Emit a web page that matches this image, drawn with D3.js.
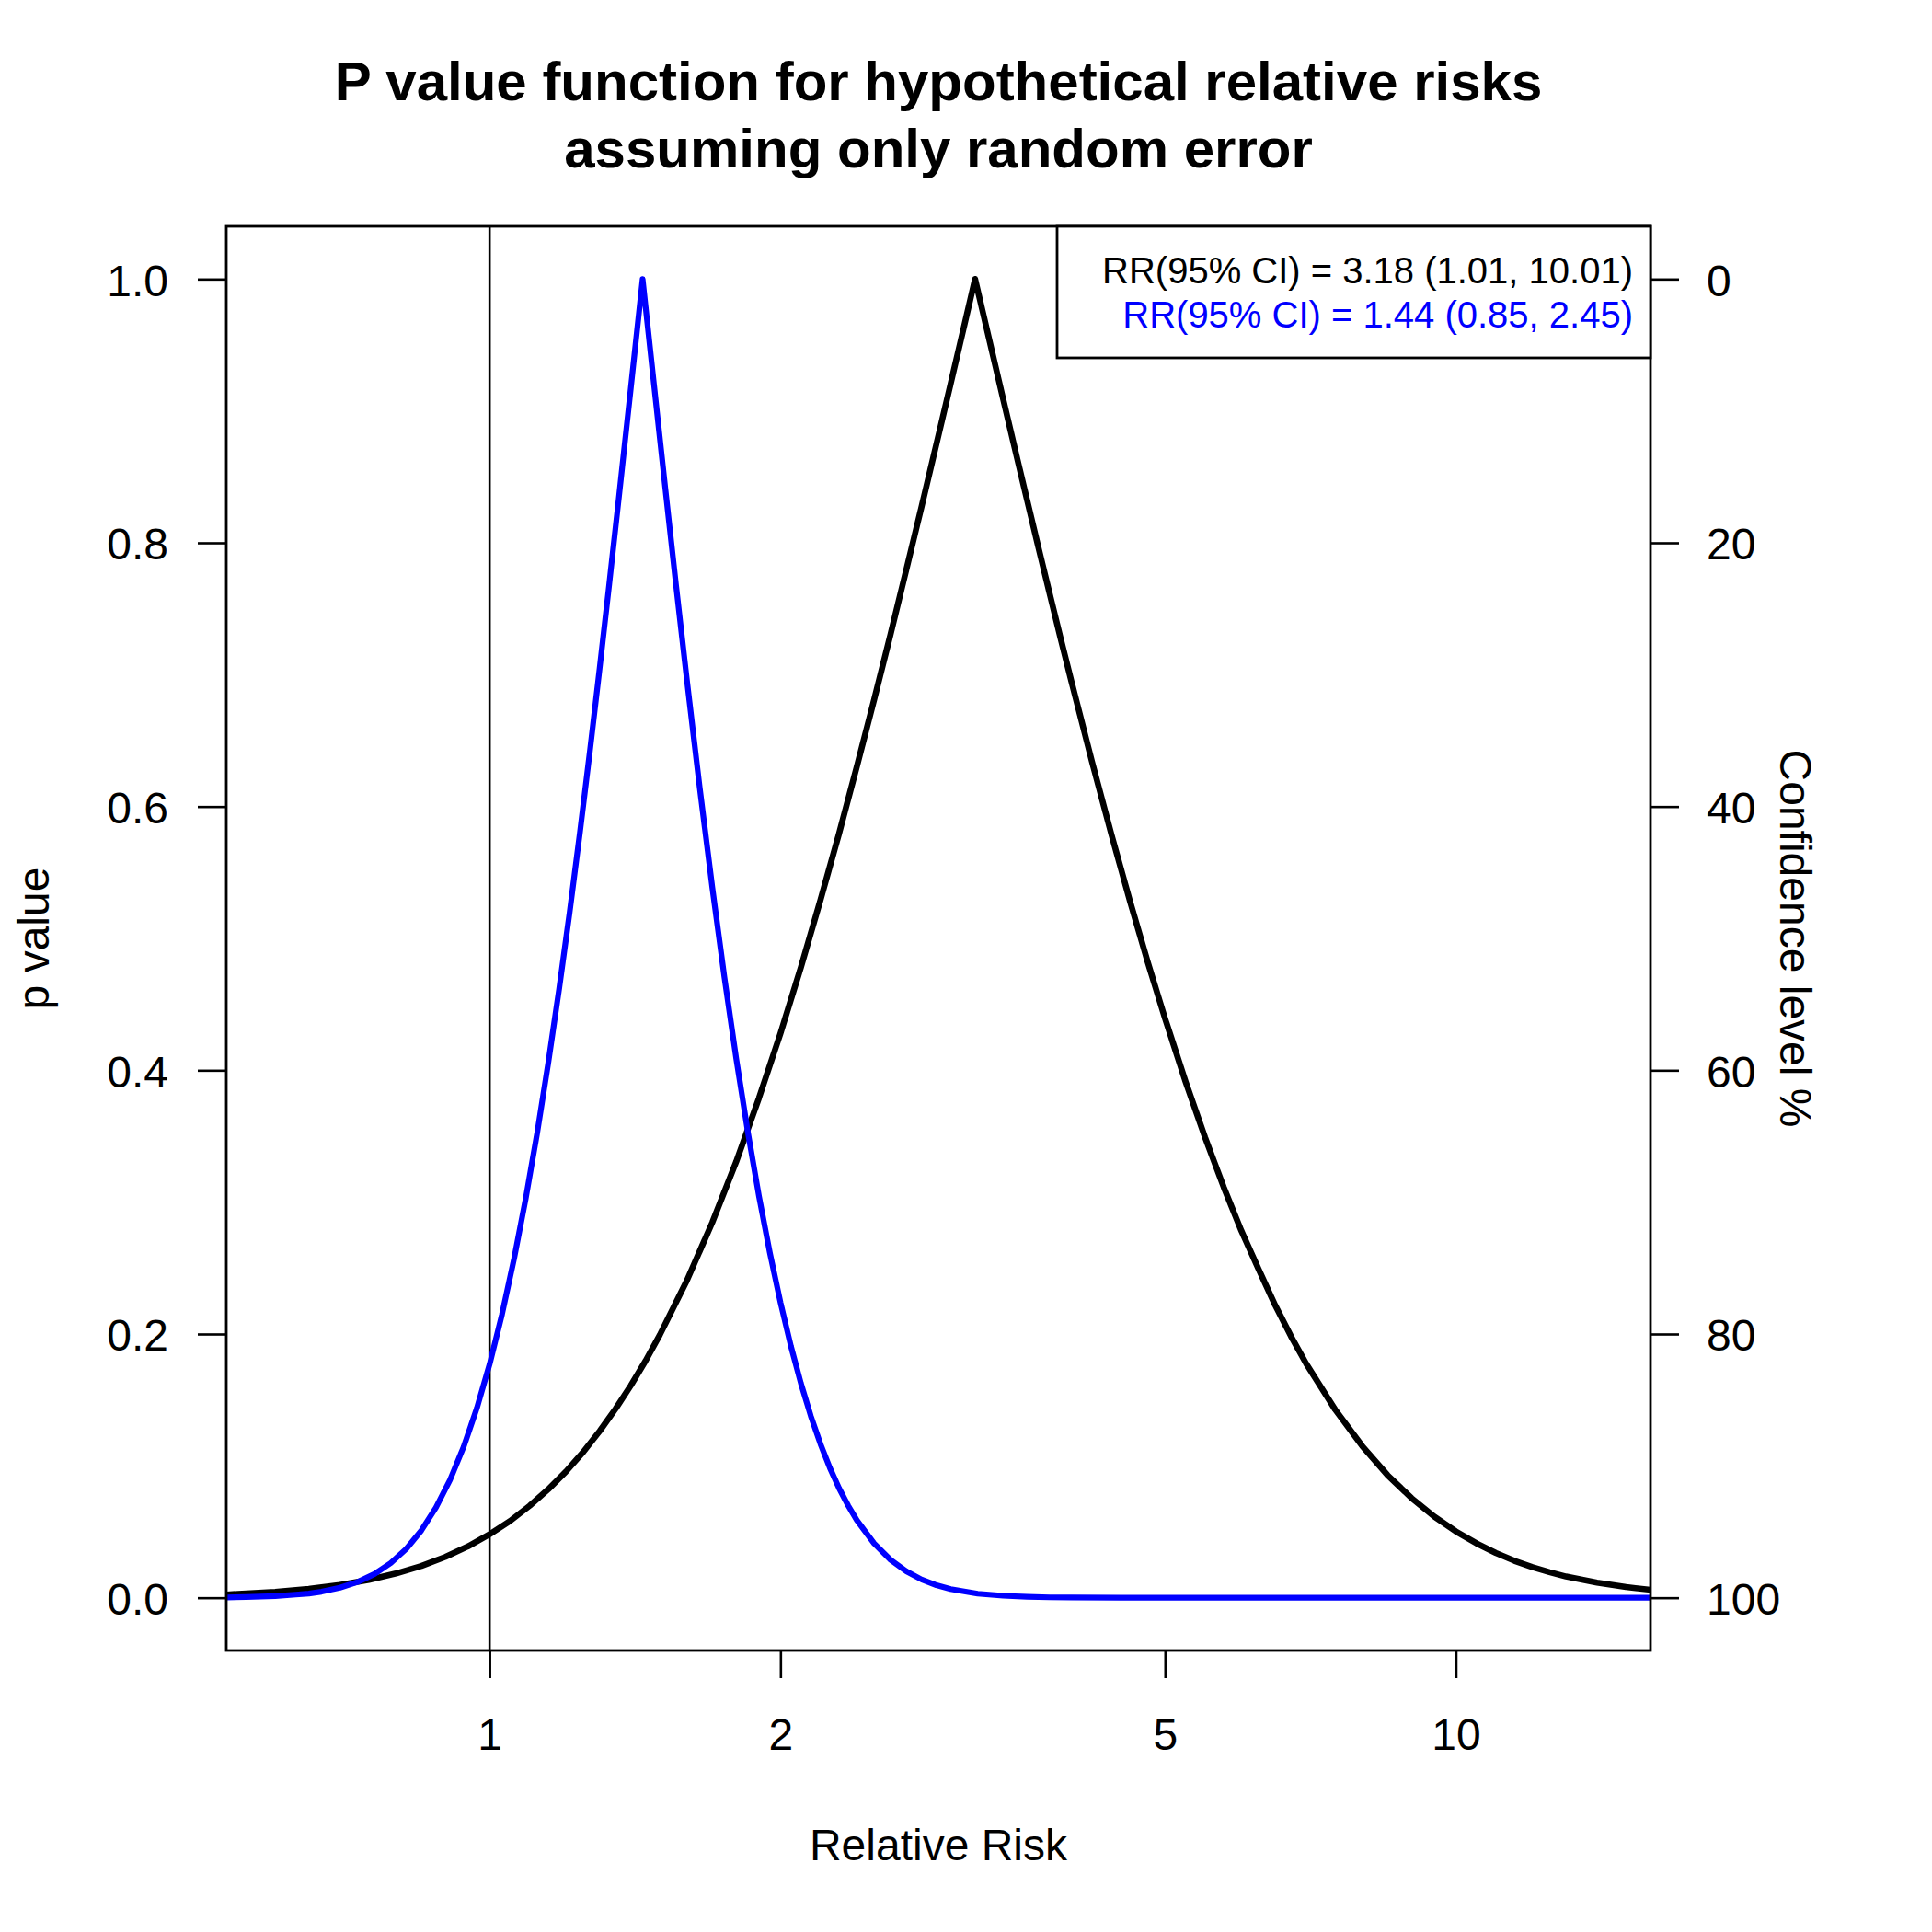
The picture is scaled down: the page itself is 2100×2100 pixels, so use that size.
<!DOCTYPE html>
<html>
<head>
<meta charset="utf-8">
<script src="https://cdn.jsdelivr.net/npm/d3@7"></script>
<style>
  html, body { margin: 0; padding: 0; background: #fff; }
  svg text { font-family: "Liberation Sans", Arial, Helvetica, sans-serif; }
</style>
</head>
<body>
<script>
// ---------------- data ----------------
const titleLines = ["P value function for hypothetical relative risks", "assuming only random error"];
const xLabel = "Relative Risk";
const yLabelLeft = "p value";
const yLabelRight = "Confidence level %";

// black series: RR = 3.18 (1.01, 10.01)
const rrBlack = [0.53, 0.6, 0.65, 0.7, 0.75, 0.8, 0.85, 0.9, 0.95, 1.0,
                 1.05, 1.1, 1.15, 1.2, 1.25, 1.3, 1.35, 1.4, 1.45, 1.5,
                 1.6, 1.7, 1.8, 1.9, 2.0, 2.1, 2.2, 2.3, 2.4, 2.5, 2.6, 2.7, 2.8, 2.9, 3.0, 3.1,
                 3.18,
                 3.3, 3.4, 3.5, 3.6, 3.7, 3.8, 3.9, 4.0,
                 4.2, 4.4, 4.6, 4.8, 5.0,
                 5.25, 5.5, 5.75, 6.0, 6.25, 6.5, 6.75, 7.0,
                 7.5, 8.0, 8.5, 9.0, 9.5, 10, 10.5, 11, 11.5, 12, 12.5, 13,
                 14, 15, 16];
const pBlack = [0.0023, 0.0044, 0.0067, 0.0097, 0.0136, 0.0184, 0.0241, 0.0310, 0.0390, 0.0481,
                0.0582, 0.0697, 0.0822, 0.0958, 0.1105, 0.1264, 0.1432, 0.1609, 0.1796, 0.1992,
                0.2405, 0.2846, 0.3308, 0.3789, 0.4280, 0.4782, 0.5291, 0.5797, 0.6307, 0.6810, 0.7307, 0.7799, 0.8278, 0.8748, 0.9206, 0.9652,
                1.0,
                0.9496, 0.9090, 0.8699, 0.8322, 0.7958, 0.7609, 0.7272, 0.6951,
                0.6345, 0.5790, 0.5282, 0.4817, 0.4394,
                0.3916, 0.3492, 0.3115, 0.2780, 0.2491, 0.2219, 0.1984, 0.1775,
                0.1427, 0.1150, 0.0929, 0.0755, 0.0615, 0.0503, 0.0413, 0.0340, 0.0280, 0.0232, 0.0194, 0.0161,
                0.0114, 0.0081, 0.0058];

// blue series: RR = 1.44 (0.85, 2.45)
const rrBlue = [0.53, 0.56, 0.6, 0.63, 0.65, 0.67, 0.7,
                0.73, 0.76, 0.79, 0.82, 0.85, 0.88, 0.91, 0.94, 0.97,
                1.0, 1.03, 1.06, 1.09, 1.12, 1.15, 1.18, 1.21, 1.24, 1.27, 1.3, 1.33, 1.36,
                1.4, 1.44,
                1.48, 1.52, 1.56, 1.6,
                1.65, 1.7, 1.75, 1.8, 1.85, 1.9, 1.95, 2.0, 2.05, 2.1, 2.15, 2.2, 2.25, 2.3, 2.35, 2.4,
                2.5, 2.6, 2.7, 2.8, 2.9, 3.0,
                3.2, 3.4, 3.6, 3.8, 4.0,
                4.5, 5, 16];
const pBlue = [0.0002, 0.0005, 0.0012, 0.0024, 0.0032, 0.0046, 0.0076,
               0.0119, 0.0180, 0.0263, 0.0371, 0.0511, 0.0684, 0.0893, 0.1144, 0.1436,
               0.1770, 0.2149, 0.2569, 0.3028, 0.3523, 0.4054, 0.4612, 0.5195, 0.5799, 0.6420, 0.7052, 0.7688, 0.8326,
               0.9171, 1.0,
               0.9192, 0.8413, 0.7668, 0.6965,
               0.6141, 0.5389, 0.4704, 0.4087, 0.3536, 0.3047, 0.2617, 0.2240, 0.1910, 0.1625, 0.1378, 0.1166, 0.0984, 0.0830, 0.0699, 0.0586,
               0.0412, 0.0287, 0.0200, 0.0138, 0.0095, 0.0066,
               0.0031, 0.0015, 0.0007, 0.0003, 0.00015,
               0.00002, 0, 0];

const seriesNames = ["RR(95% CI) = 3.18 (1.01, 10.01)", "RR(95% CI) = 1.44 (0.85, 2.45)"];
const seriesColors = ["#000000", "#0000ff"];

const xTicks = [1, 2, 5, 10];
const yTicksLeft = [0, 0.2, 0.4, 0.6, 0.8, 1.0];
const confTicks = [0, 20, 40, 60, 80, 100];
const refLineRR = 1;

// ---------------- layout ----------------
const W = 2100, H = 2100;
const plot = { left: 246, right: 1794, top: 246, bottom: 1794 };
const axisFont = 48;

const svg = d3.select("body").append("svg")
  .attr("width", W).attr("height", H)
  .attr("viewBox", `0 0 ${W} ${H}`);

svg.append("rect").attr("width", W).attr("height", H).attr("fill", "#fff");

const x = d3.scaleLog().domain([0.534, 15.9]).range([plot.left, plot.right]);
const y = d3.scaleLinear().domain([-0.04, 1.04]).range([plot.bottom, plot.top]);
const yConf = d3.scaleLinear().domain([-4, 104]).range([plot.top, plot.bottom]);

// clip
svg.append("defs").append("clipPath").attr("id", "clip")
  .append("rect")
  .attr("x", plot.left).attr("y", plot.top)
  .attr("width", plot.right - plot.left).attr("height", plot.bottom - plot.top);

// title
svg.append("g").selectAll("text").data(titleLines).join("text")
  .attr("x", (plot.left + plot.right) / 2)
  .attr("y", (d, i) => i === 0 ? 109 : 182)
  .attr("text-anchor", "middle")
  .attr("font-size", 60)
  .attr("font-weight", "bold")
  .text(d => d);

// reference line at RR = 1
svg.append("line")
  .attr("x1", x(refLineRR)).attr("x2", x(refLineRR))
  .attr("y1", plot.top).attr("y2", plot.bottom)
  .attr("stroke", "#000").attr("stroke-width", 2.6);

// curves
const line = d3.line().x(d => x(d[0])).y(d => y(d[1]));
const curves = svg.append("g").attr("clip-path", "url(#clip)");
const seriesData = [
  rrBlack.map((r, j) => [r, pBlack[j]]),
  rrBlue.map((r, j) => [r, pBlue[j]])
];
seriesData.forEach((pts, i) => {
  curves.append("path")
    .datum(pts)
    .attr("d", line)
    .attr("fill", "none")
    .attr("stroke", seriesColors[i])
    .attr("stroke-width", i === 0 ? 6.6 : 6.2)
    .attr("stroke-linejoin", "round")
    .attr("stroke-linecap", "round");
});

// axes
function styleAxis(g) {
  g.select(".domain").remove();
  g.selectAll(".tick line").attr("stroke", "#000").attr("stroke-width", 2.6);
  g.selectAll(".tick text").attr("fill", "#000").attr("font-size", axisFont)
    .attr("font-family", "'Liberation Sans', Arial, Helvetica, sans-serif");
}

const gx = svg.append("g").attr("transform", `translate(0,${plot.bottom})`)
  .call(d3.axisBottom(x).tickValues(xTicks).tickFormat(d3.format("d"))
    .tickSize(30).tickSizeOuter(0).tickPadding(44));
styleAxis(gx);

const gy = svg.append("g").attr("transform", `translate(${plot.left},0)`)
  .call(d3.axisLeft(y).tickValues(yTicksLeft).tickFormat(d3.format(".1f"))
    .tickSize(31).tickSizeOuter(0).tickPadding(32));
styleAxis(gy);
gy.selectAll(".tick text").attr("dy", "0.37em");

const gr = svg.append("g").attr("transform", `translate(${plot.right},0)`)
  .call(d3.axisRight(yConf).tickValues(confTicks).tickFormat(d3.format("d"))
    .tickSize(31).tickSizeOuter(0).tickPadding(30));
styleAxis(gr);
gr.selectAll(".tick text").attr("dy", "0.37em");

// plot box
svg.append("rect")
  .attr("x", plot.left).attr("y", plot.top)
  .attr("width", plot.right - plot.left).attr("height", plot.bottom - plot.top)
  .attr("fill", "none").attr("stroke", "#000").attr("stroke-width", 2.8);

// axis labels
svg.append("text")
  .attr("x", (plot.left + plot.right) / 2).attr("y", 2022)
  .attr("text-anchor", "middle").attr("font-size", axisFont)
  .text(xLabel);

svg.append("text")
  .attr("transform", `translate(53,${(plot.top + plot.bottom) / 2}) rotate(-90)`)
  .attr("text-anchor", "middle").attr("font-size", axisFont)
  .text(yLabelLeft);

svg.append("text")
  .attr("transform", `translate(1935,${(plot.top + plot.bottom) / 2}) rotate(90)`)
  .attr("text-anchor", "middle").attr("font-size", axisFont)
  .text(yLabelRight);

// legend
const leg = svg.append("g");
leg.append("rect")
  .attr("x", 1149).attr("y", plot.top)
  .attr("width", plot.right - 1149).attr("height", 389 - plot.top)
  .attr("fill", "#fff").attr("stroke", "#000").attr("stroke-width", 2.8);
leg.selectAll("text").data(seriesNames).join("text")
  .attr("x", 1775)
  .attr("y", (d, i) => 308 + i * 48)
  .attr("text-anchor", "end")
  .attr("font-size", 40)
  .attr("fill", (d, i) => seriesColors[i])
  .text(d => d);
</script>
</body>
</html>
